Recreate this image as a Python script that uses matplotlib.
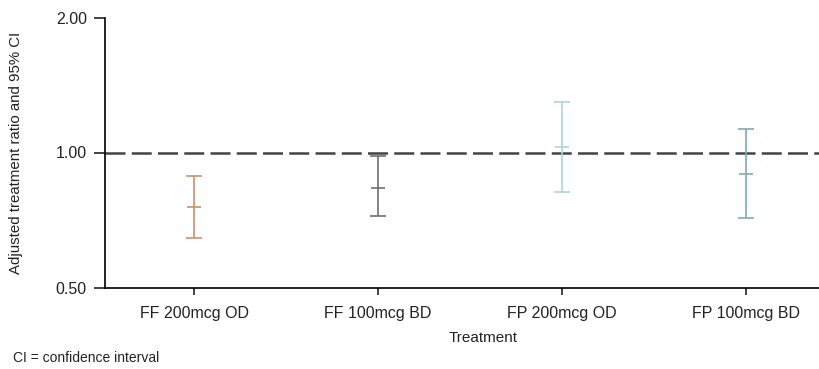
import matplotlib
import matplotlib.pyplot as plt
import matplotlib.ticker as mticker

matplotlib.use('Agg')

# Data (adjusted treatment ratio, 95% CI)
treatments = ["FF 200mcg OD", "FF 100mcg BD", "FP 200mcg OD", "FP 100mcg BD"]
ratio = [0.755, 0.835, 1.027, 0.894]
ci_low = [0.645, 0.721, 0.815, 0.715]
ci_high = [0.888, 0.981, 1.294, 1.128]
colors = ["#c99270", "#6f6f6f", "#b2d3dc", "#80a9b5"]
y_ticks = [0.5, 1.0, 2.0]

TEXT_COLOR = "#222222"
plt.rcParams['font.family'] = ['Liberation Sans', 'DejaVu Sans']

fig = plt.figure(figsize=(8.19, 3.69), dpi=100, facecolor="white")
ax = fig.add_axes([105 / 819, 1 - 287.5 / 369, 714 / 819, 270 / 369])

x = list(range(len(treatments)))

# reference line at ratio 1
ax.axhline(1.0, color="#444444", linewidth=1.8, dashes=(8, 2.5), zorder=1)

for i in x:
    ax.errorbar(i, ratio[i],
                yerr=[[ratio[i] - ci_low[i]], [ci_high[i] - ratio[i]]],
                fmt='none', ecolor=colors[i], elinewidth=1.2,
                capsize=5.5, capthick=1.2, zorder=2)
    ax.plot(i, ratio[i], marker='_', markersize=10, markeredgewidth=1.2,
            color=colors[i], zorder=3)

ax.set_yscale('log')
ax.set_ylim(0.5, 2.0)
ax.yaxis.set_major_locator(mticker.FixedLocator(y_ticks))
ax.yaxis.set_major_formatter(mticker.FormatStrFormatter('%.2f'))
ax.yaxis.set_minor_locator(mticker.NullLocator())

ax.set_xlim(-0.484, 3.397)
ax.set_xticks(x)
ax.set_xticklabels(treatments)

ax.spines['top'].set_visible(False)
ax.spines['right'].set_visible(False)
ax.spines['left'].set_linewidth(1.2)
ax.spines['bottom'].set_linewidth(1.2)
ax.tick_params(axis='both', colors=TEXT_COLOR, labelsize=11.5, width=1.2)
ax.tick_params(axis='y', length=8, pad=5)
ax.tick_params(axis='x', length=5, pad=8)

ax.set_xlabel("Treatment", fontsize=11, color=TEXT_COLOR)
ax.xaxis.set_label_coords(0.529, -0.16)
ax.set_ylabel("Adjusted treatment ratio and 95% CI", fontsize=10.8,
              color=TEXT_COLOR)
ax.yaxis.set_label_coords(-0.115, 0.5)

fig.text(13 / 819, 1 - 358 / 369, "CI = confidence interval", fontsize=10,
         color=TEXT_COLOR, va='center', ha='left')

fig.savefig("out.png", dpi=100, facecolor="white")
plt.close(fig)
